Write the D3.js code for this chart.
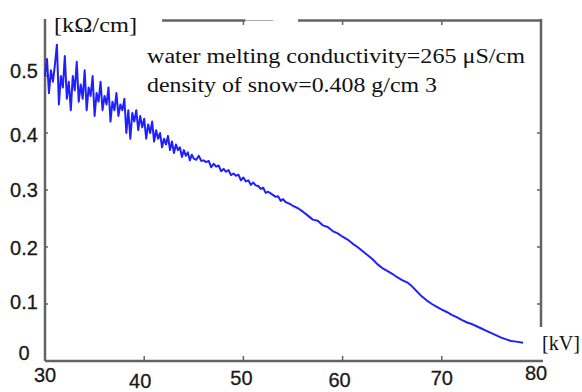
<!DOCTYPE html>
<html>
<head>
<meta charset="utf-8">
<script src="https://cdn.jsdelivr.net/npm/d3@7"></script>
<style>
  html, body { margin: 0; padding: 0; background: #fff; }
  svg { display: block; }
</style>
</head>
<body>
<svg id="chart" width="582" height="392"></svg>
<script>
// ---- data ----
const voltageKV = [
  30.0,30.2,30.4,30.6,30.8,31.0,31.2,31.4,31.6,31.8,32.0,32.2,32.4,32.6,32.8,
  33.0,33.2,33.4,33.6,33.8,34.0,34.2,34.4,34.6,34.8,35.0,35.2,35.4,35.6,35.8,
  36.0,36.2,36.4,36.6,36.8,37.0,37.2,37.4,37.6,37.8,38.0,38.2,38.4,38.6,38.8,
  39.0,39.2,39.4,39.6,39.8,40.0,40.2,40.4,40.6,40.8,41.0,41.2,41.4,41.6,41.8,
  42.0,42.2,42.4,42.6,42.8,43.0,43.2,43.4,43.6,43.8,44.0,44.2,44.4,44.6,44.8,
  45.0,45.25,45.5,45.75,46.0,46.25,46.5,46.75,47.0,47.25,47.5,47.75,48.0,48.25,
  48.5,48.75,49.0,49.25,49.5,49.75,50.0,50.25,50.5,50.75,51.0,51.25,51.5,51.75,
  52.0,52.25,52.5,52.75,53.0,53.25,53.5,53.75,54.0,54.25,54.5,54.75,55.0,
  55.5,56.0,56.5,57.0,57.5,58.0,58.5,59.0,59.5,60.0,60.5,61.0,61.5,62.0,62.5,
  63.0,63.5,64.0,64.5,65.0,65.5,66.0,66.5,67.0,67.5,68.0,68.5,69.0,69.5,70.0,
  70.5,71.0,71.5,72.0,72.5,73.0,73.5,74.0,74.5,75.0,75.5,76.0,76.5,77.0,77.5,78.2
];
const resistivity = [
  0.500,0.530,0.470,0.510,0.490,0.520,0.555,0.450,0.500,0.480,0.535,0.460,0.490,0.440,0.500,
  0.475,0.525,0.455,0.485,0.460,0.510,0.440,0.480,0.465,0.500,0.430,0.470,0.455,0.490,0.440,
  0.465,0.450,0.480,0.420,0.455,0.440,0.470,0.430,0.450,0.440,0.460,0.400,0.440,0.390,0.435,
  0.420,0.440,0.405,0.430,0.410,0.425,0.390,0.415,0.400,0.420,0.385,0.405,0.390,0.400,0.375,
  0.390,0.380,0.395,0.370,0.385,0.365,0.380,0.370,0.375,0.358,0.370,0.360,0.366,0.352,0.362,
  0.355,0.353,0.360,0.351,0.352,0.349,0.351,0.340,0.346,0.341,0.343,0.333,0.337,0.332,
  0.335,0.326,0.329,0.325,0.327,0.317,0.322,0.315,0.317,0.309,0.313,0.308,0.307,0.302,
  0.304,0.295,0.297,0.294,0.291,0.288,0.289,0.281,0.284,0.279,0.277,0.275,0.272,
  0.268,0.262,0.255,0.248,0.246,0.238,0.235,0.228,0.224,0.218,0.213,0.206,0.200,0.193,0.186,
  0.179,0.170,0.163,0.158,0.153,0.147,0.142,0.138,0.131,0.122,0.113,0.106,0.100,0.095,0.090,
  0.086,0.081,0.077,0.072,0.068,0.065,0.061,0.057,0.053,0.049,0.045,0.041,0.038,0.035,0.034,0.032
];
const xTickValues = [30, 40, 50, 60, 70, 80];
const xTickLabels = ["30", "40", "50", "60", "70", "80"];
const yTickValues = [0, 0.1, 0.2, 0.3, 0.4, 0.5];
const yTickLabels = ["0", "0.1", "0.2", "0.3", "0.4", "0.5"];
const yUnit = "[kΩ/cm]";
const xUnit = "[kV]";
const noteLines = ["water melting conductivity=265 μS/cm", "density of snow=0.408 g/cm 3"];

// ---- layout / style ----
const svg = d3.select("#chart");
const x = d3.scaleLinear().domain([30, 80]).range([45, 541]);
const y = d3.scaleLinear().domain([0, 0.6]).range([361, 19]);
const axisColor = "#636363";
const sans = "'Liberation Sans', Arial, sans-serif";
const serif = "'Liberation Serif', 'Times New Roman', serif";

// frame lines
const frame = svg.append("g").attr("stroke", axisColor).attr("fill", "none");
frame.append("line").attr("x1", x(30)).attr("x2", x(30)).attr("y1", y(0.6)).attr("y2", y(0)).attr("stroke-width", 2.5);
frame.append("line").attr("x1", x(30)).attr("x2", x(80) + 2).attr("y1", y(0)).attr("y2", y(0)).attr("stroke-width", 2.5);
frame.append("line").attr("x1", x(80)).attr("x2", x(80)).attr("y1", y(0.6)).attr("y2", y(0) - 34).attr("stroke-width", 2.5);
frame.append("line").attr("x1", x(41.8)).attr("x2", x(50.2)).attr("y1", y(0.6) + 1.5).attr("y2", y(0.6) + 1.5).attr("stroke-width", 2.5);
frame.append("line").attr("x1", x(50.2)).attr("x2", x(53.0)).attr("y1", y(0.6) + 1.5).attr("y2", y(0.6) + 1.5).attr("stroke-width", 1).attr("stroke", "#aaa");
frame.append("line").attr("x1", x(55.5)).attr("x2", x(80) + 1).attr("y1", y(0.6) + 1.5).attr("y2", y(0.6) + 1.5).attr("stroke-width", 2.5);

// ticks
const inner = xTickValues.slice(1, -1);
frame.selectAll(".bt").data(inner).join("line")
  .attr("x1", d => x(d)).attr("x2", d => x(d)).attr("y1", y(0)).attr("y2", y(0) - 5).attr("stroke-width", 1.5);
frame.selectAll(".tt").data(inner.slice(1)).join("line")
  .attr("x1", d => x(d)).attr("x2", d => x(d)).attr("y1", y(0.6) + 1.5).attr("y2", y(0.6) + 6).attr("stroke-width", 1.5);
const yInner = yTickValues.slice(1);
frame.selectAll(".lt").data(yInner).join("line")
  .attr("x1", x(30)).attr("x2", x(30) + 3).attr("y1", d => y(d)).attr("y2", d => y(d)).attr("stroke-width", 1.5);
frame.selectAll(".rt").data(yInner.slice(0, 4)).join("line")
  .attr("x1", x(80)).attr("x2", x(80) - 4).attr("y1", d => y(d)).attr("y2", d => y(d)).attr("stroke-width", 1.5);

// tick labels
const xLabelDx = [0, -4, -2, -3, 0, -5];
const xLabelDy = [14, 20, 17, 19, 17, 12];
svg.append("g").selectAll("text").data(xTickValues).join("text")
  .attr("x", (d, i) => x(d) + xLabelDx[i]).attr("y", (d, i) => y(0) + xLabelDy[i])
  .attr("text-anchor", "middle").attr("dominant-baseline", "central")
  .attr("font-family", sans).attr("font-size", 20).attr("fill", "#1a1a1a")
  .attr("stroke", "#1a1a1a").attr("stroke-width", 0.3)
  .text((d, i) => xTickLabels[i]);
const yLabelDy = [-8, -2, 1, 0, 2, -5];
svg.append("g").selectAll("text").data(yTickValues).join("text")
  .attr("x", 24).attr("y", (d, i) => y(d) + yLabelDy[i])
  .attr("text-anchor", "middle").attr("dominant-baseline", "central")
  .attr("font-family", sans).attr("font-size", 20).attr("fill", "#1a1a1a")
  .attr("stroke", "#1a1a1a").attr("stroke-width", 0.3)
  .text((d, i) => yTickLabels[i]);

// units
svg.append("text").attr("x", 54).attr("y", 32).attr("font-family", serif).attr("font-size", 20)
  .attr("textLength", 83).attr("lengthAdjust", "spacingAndGlyphs").attr("fill", "#111").text(yUnit);
svg.append("text").attr("x", 542).attr("y", 350).attr("font-family", serif).attr("font-size", 20)
  .attr("textLength", 38).attr("lengthAdjust", "spacingAndGlyphs").attr("fill", "#111").text(xUnit);

// notes
const noteLen = [378, 290];
svg.append("g").selectAll("text").data(noteLines).join("text")
  .attr("x", 147).attr("y", (d, i) => 63 + i * 29)
  .attr("font-family", serif).attr("font-size", 20).attr("fill", "#111")
  .attr("textLength", (d, i) => noteLen[i]).attr("lengthAdjust", "spacingAndGlyphs")
  .text(d => d);

// curve
const pts = voltageKV.map((v, i) => [v, resistivity[i]]);
svg.append("path").datum(pts)
  .attr("fill", "none").attr("stroke", "#2020ff").attr("stroke-width", 2)
  .attr("stroke-linejoin", "round")
  .attr("d", d3.line().x(d => x(d[0])).y(d => y(d[1])));
</script>
</body>
</html>
